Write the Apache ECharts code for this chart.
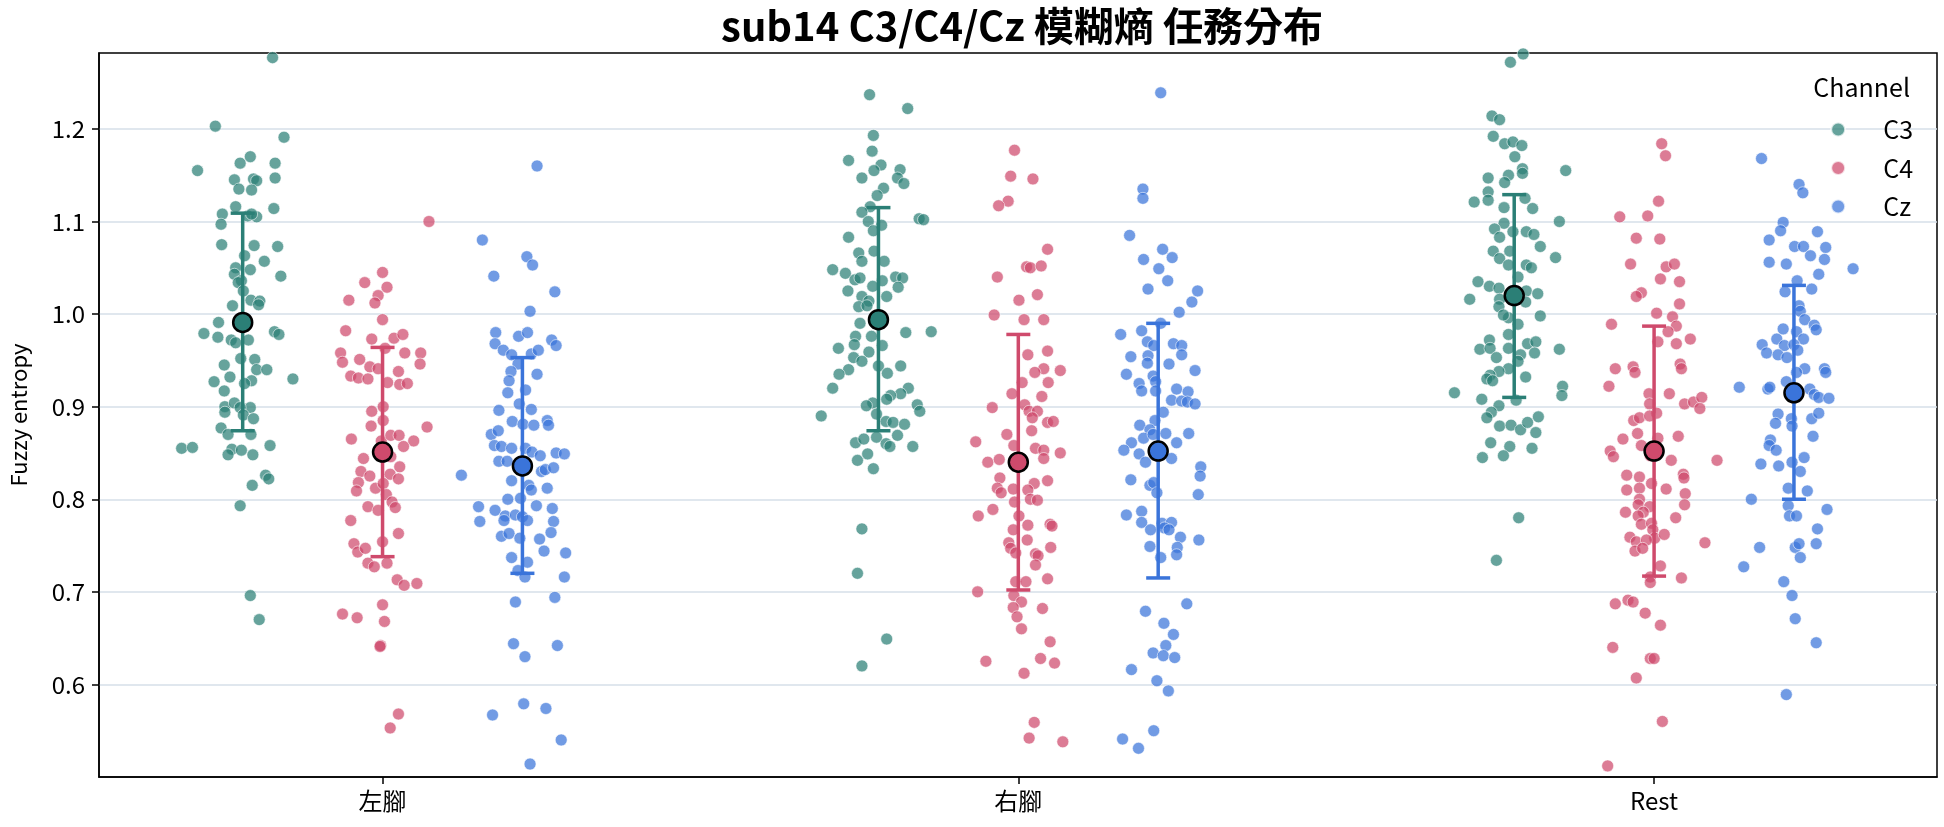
<!DOCTYPE html>
<html>
<head>
<meta charset="utf-8">
<title>sub14 fuzzy entropy</title>
<script src="https://cdn.jsdelivr.net/npm/echarts@6/dist/echarts.min.js"></script>
<style>
  html, body { margin: 0; padding: 0; background: #fff; }
  #main { width: 1944px; height: 827px; }
</style>
</head>
<body>
<div id="main"></div>
<script type="text/javascript">
var tasks = ['左腳', '右腳', 'Rest'];
var channels = ['C3', 'C4', 'Cz'];

// each point: [horizontal jitter (category units), fuzzy entropy]
var L_C3 = [[0.047,1.277],[-0.043,1.203],[0.065,1.191],[-0.071,1.155],[-0.004,1.163],[0.012,1.170],[0.051,1.163],[0.051,1.147],[-0.013,1.145],[0.017,1.146],[0.022,1.144],[-0.006,1.135],[0.014,1.134],[0.049,1.114],[-0.011,1.116],[-0.032,1.108],[-0.034,1.097],[0.008,1.106],[0.022,1.105],[0.014,1.108],[-0.033,1.075],[0.018,1.074],[0.055,1.073],[0.003,1.063],[0.034,1.057],[-0.011,1.050],[0.012,1.048],[-0.013,1.043],[0.060,1.041],[-0.002,1.036],[-0.007,1.034],[0.001,1.025],[0.013,1.015],[0.027,1.014],[0.025,1.010],[-0.016,1.009],[-0.038,0.991],[-0.061,0.979],[-0.039,0.975],[-0.018,0.972],[-0.011,0.969],[0.009,0.972],[0.050,0.981],[0.057,0.978],[-0.003,0.952],[0.019,0.951],[-0.029,0.945],[0.022,0.940],[0.038,0.940],[-0.020,0.932],[-0.045,0.927],[0.014,0.928],[0.003,0.925],[0.079,0.930],[-0.029,0.917],[-0.028,0.900],[-0.013,0.904],[0.012,0.899],[-0.004,0.899],[-0.028,0.894],[0.001,0.891],[0.017,0.887],[-0.034,0.877],[-0.023,0.870],[0.013,0.870],[-0.096,0.855],[-0.079,0.856],[0.043,0.858],[-0.017,0.854],[-0.002,0.853],[-0.023,0.848],[0.016,0.848],[0.036,0.826],[0.041,0.822],[0.015,0.815],[-0.004,0.793],[0.012,0.696],[0.026,0.670]];
var L_C4 = [[0.073,1.100],[0,1.045],[-0.028,1.034],[0.007,1.029],[-0.007,1.020],[-0.053,1.015],[-0.012,1.012],[0,0.994],[-0.058,0.982],[-0.017,0.973],[0.018,0.974],[0.032,0.978],[0.004,0.963],[-0.066,0.958],[-0.063,0.948],[-0.036,0.951],[0.035,0.958],[0.060,0.958],[0.059,0.946],[-0.020,0.943],[-0.007,0.941],[-0.050,0.933],[-0.038,0.931],[-0.023,0.930],[0.025,0.938],[0.008,0.926],[0.027,0.924],[0.039,0.925],[-0.017,0.895],[0.001,0.900],[-0.018,0.879],[0.001,0.885],[-0.049,0.865],[-0.002,0.863],[0.013,0.869],[0.026,0.869],[0.049,0.863],[0.070,0.878],[0.033,0.857],[-0.030,0.844],[0.013,0.846],[0.027,0.835],[-0.034,0.830],[-0.020,0.825],[0.012,0.827],[0.025,0.822],[-0.038,0.818],[-0.041,0.809],[-0.011,0.812],[0.001,0.817],[0.006,0.805],[-0.023,0.792],[-0.007,0.788],[0.015,0.797],[0.020,0.791],[-0.050,0.777],[0,0.754],[0.025,0.763],[-0.045,0.752],[-0.039,0.743],[-0.027,0.747],[-0.023,0.731],[-0.013,0.727],[0.007,0.731],[0.023,0.713],[0.034,0.707],[0.054,0.709],[0,0.686],[-0.063,0.676],[-0.040,0.672],[0.003,0.668],[-0.003,0.642],[-0.004,0.641],[0.025,0.568],[0.012,0.553]];
var L_Cz = [[0.023,1.160],[-0.063,1.080],[0.007,1.062],[0.016,1.053],[-0.045,1.041],[0.051,1.024],[0.012,1.003],[-0.042,0.980],[-0.043,0.968],[-0.006,0.976],[0.008,0.980],[0.046,0.972],[0.053,0.966],[-0.030,0.961],[-0.017,0.956],[0.014,0.957],[0.025,0.961],[-0.007,0.946],[-0.018,0.938],[0.023,0.935],[-0.021,0.928],[0.005,0.918],[-0.023,0.915],[-0.005,0.903],[-0.037,0.896],[0.014,0.897],[-0.016,0.884],[0.001,0.881],[0.018,0.880],[0.039,0.885],[0.041,0.880],[-0.049,0.870],[-0.038,0.874],[-0.044,0.858],[-0.033,0.857],[-0.017,0.855],[0.005,0.855],[0.015,0.851],[0.028,0.847],[0.053,0.850],[0.066,0.849],[-0.037,0.841],[-0.024,0.841],[0.030,0.830],[0.036,0.832],[0.049,0.834],[-0.096,0.826],[-0.017,0.820],[0.010,0.815],[0.014,0.810],[0.039,0.812],[-0.023,0.800],[-0.003,0.801],[-0.069,0.792],[-0.043,0.788],[0.022,0.793],[0.047,0.790],[-0.027,0.782],[-0.011,0.783],[0,0.781],[0.008,0.777],[-0.067,0.776],[-0.029,0.777],[0.049,0.776],[-0.033,0.760],[-0.021,0.763],[-0.004,0.758],[0.027,0.757],[0.045,0.764],[0.034,0.744],[0.068,0.742],[-0.017,0.737],[0.008,0.732],[-0.007,0.723],[0.004,0.716],[0.066,0.716],[-0.011,0.689],[0.051,0.694],[-0.014,0.644],[0.004,0.630],[0.055,0.642],[-0.047,0.567],[0.002,0.579],[0.037,0.574],[0.061,0.540],[0.012,0.514]];

var R_C3 = [[-0.014,1.237],[0.046,1.222],[-0.008,1.193],[-0.010,1.176],[-0.047,1.166],[0.004,1.161],[-0.007,1.155],[-0.026,1.147],[0.034,1.156],[0.030,1.147],[0.040,1.141],[0.008,1.136],[-0.002,1.128],[-0.013,1.116],[-0.026,1.110],[-0.016,1.100],[0.005,1.096],[-0.008,1.090],[0.064,1.103],[0.071,1.102],[-0.047,1.083],[-0.007,1.068],[-0.031,1.066],[-0.026,1.057],[0.009,1.057],[-0.072,1.048],[-0.052,1.044],[-0.037,1.037],[-0.029,1.039],[0.006,1.036],[0.027,1.040],[0.038,1.039],[-0.009,1.030],[-0.048,1.025],[0.031,1.029],[-0.026,1.019],[0.013,1.019],[-0.015,1.014],[-0.031,1.008],[-0.018,1.009],[-0.029,0.990],[0.043,0.980],[0.083,0.981],[-0.036,0.976],[-0.011,0.976],[0.006,0.966],[-0.038,0.967],[-0.063,0.963],[-0.015,0.959],[-0.039,0.953],[-0.026,0.949],[0,0.944],[0.035,0.944],[-0.047,0.940],[0.014,0.936],[-0.062,0.935],[-0.072,0.920],[0.047,0.920],[0.035,0.914],[0.019,0.912],[0.013,0.908],[-0.009,0.904],[-0.019,0.901],[0.061,0.902],[0.065,0.895],[-0.090,0.890],[-0.003,0.892],[0.012,0.884],[0.023,0.883],[0.041,0.881],[0.030,0.869],[-0.036,0.861],[-0.023,0.865],[-0.003,0.867],[0.012,0.860],[0.018,0.857],[0.054,0.857],[-0.033,0.842],[-0.017,0.849],[-0.008,0.833],[-0.026,0.768],[-0.033,0.720],[0.013,0.649],[-0.026,0.620]];
var R_C4 = [[-0.006,1.177],[-0.012,1.149],[0.023,1.146],[-0.016,1.122],[-0.031,1.117],[0.046,1.070],[0.013,1.051],[0.019,1.050],[0.036,1.052],[-0.033,1.040],[0.001,1.015],[0.030,1.021],[-0.038,0.999],[0.009,0.994],[0.040,0.994],[0.046,0.960],[0.015,0.956],[0.040,0.941],[0.026,0.937],[0.066,0.939],[0.006,0.926],[0.047,0.926],[-0.010,0.914],[0.037,0.911],[-0.041,0.899],[0.010,0.902],[0.017,0.895],[0.030,0.895],[0.022,0.888],[0.046,0.883],[0.055,0.884],[0.021,0.874],[-0.067,0.862],[-0.018,0.870],[-0.007,0.858],[0.027,0.855],[0.040,0.853],[0.066,0.850],[-0.048,0.840],[-0.030,0.843],[0.040,0.844],[-0.029,0.823],[0.025,0.817],[0.046,0.820],[-0.033,0.812],[-0.027,0.807],[-0.008,0.811],[0.015,0.810],[-0.006,0.797],[0.019,0.800],[0.030,0.799],[-0.063,0.782],[-0.040,0.789],[0.001,0.782],[0.015,0.772],[0.050,0.773],[0.053,0.771],[-0.008,0.767],[0.014,0.756],[-0.015,0.753],[-0.012,0.747],[-0.004,0.742],[0.051,0.748],[0.027,0.741],[0.031,0.739],[0.027,0.729],[0.046,0.714],[-0.004,0.711],[0.012,0.711],[-0.064,0.700],[-0.007,0.696],[0.005,0.689],[-0.008,0.683],[0.038,0.682],[-0.002,0.673],[0.005,0.660],[0.050,0.646],[-0.051,0.625],[0.035,0.628],[0.057,0.623],[0.009,0.612],[0.025,0.559],[0.017,0.542],[0.070,0.538]];
var R_Cz = [[0.004,1.239],[-0.024,1.135],[-0.024,1.125],[-0.045,1.085],[0.007,1.070],[0.022,1.061],[-0.023,1.059],[0.001,1.049],[0.015,1.036],[-0.016,1.027],[0.062,1.025],[0.053,1.013],[0.033,1.002],[0.004,0.990],[-0.059,0.978],[-0.026,0.982],[-0.017,0.970],[-0.007,0.966],[0.024,0.968],[0.037,0.966],[0.037,0.956],[-0.043,0.954],[-0.016,0.955],[-0.017,0.947],[0.017,0.946],[0.058,0.939],[-0.050,0.935],[-0.008,0.933],[-0.004,0.927],[-0.030,0.925],[-0.026,0.917],[-0.004,0.917],[0.029,0.919],[0.047,0.916],[0.021,0.907],[0.037,0.906],[0.046,0.905],[0.058,0.903],[0.008,0.894],[-0.005,0.885],[-0.029,0.880],[-0.013,0.875],[-0.023,0.866],[-0.008,0.870],[0.012,0.871],[0.048,0.871],[-0.042,0.861],[-0.054,0.853],[0.029,0.861],[-0.030,0.849],[0.021,0.844],[-0.020,0.840],[0.067,0.835],[0.066,0.825],[-0.043,0.821],[-0.013,0.815],[-0.007,0.818],[-0.002,0.807],[0.063,0.805],[-0.050,0.783],[-0.026,0.787],[-0.026,0.775],[0.006,0.774],[0.021,0.775],[-0.012,0.767],[0.010,0.769],[0.017,0.767],[0.035,0.759],[0.064,0.756],[0.030,0.748],[-0.013,0.749],[0.029,0.740],[0.004,0.737],[-0.020,0.679],[0.045,0.687],[0.009,0.666],[0.024,0.654],[0.012,0.642],[-0.008,0.634],[0.008,0.631],[0.026,0.629],[-0.042,0.616],[-0.002,0.604],[0.016,0.593],[-0.007,0.550],[-0.056,0.541],[-0.031,0.531]];

var S_C3 = [[-0.006,1.272],[0.014,1.281],[-0.035,1.214],[-0.023,1.210],[-0.033,1.192],[-0.015,1.184],[-0.002,1.186],[0.012,1.182],[0.001,1.170],[0.081,1.155],[0.013,1.157],[0.013,1.152],[-0.041,1.147],[-0.009,1.150],[-0.015,1.142],[-0.041,1.132],[-0.041,1.123],[-0.063,1.121],[0.017,1.125],[0.029,1.114],[-0.016,1.115],[0.071,1.100],[-0.016,1.098],[-0.031,1.092],[-0.002,1.089],[0.019,1.089],[0.031,1.086],[-0.023,1.083],[0.041,1.073],[-0.033,1.068],[-0.007,1.068],[0.065,1.061],[-0.023,1.060],[-0.009,1.053],[0.019,1.053],[0.027,1.050],[0.006,1.040],[-0.057,1.035],[-0.039,1.030],[-0.024,1.028],[0.019,1.025],[0.037,1.022],[-0.070,1.016],[-0.023,1.016],[0.018,1.013],[-0.024,1.008],[-0.009,0.996],[0.041,0.998],[-0.017,0.999],[0.006,0.989],[-0.009,0.978],[-0.039,0.972],[-0.054,0.962],[-0.038,0.963],[0.021,0.968],[0.034,0.970],[0.032,0.958],[-0.009,0.963],[0.071,0.962],[-0.028,0.953],[0.010,0.956],[0.006,0.949],[-0.009,0.941],[-0.024,0.938],[-0.038,0.934],[-0.043,0.930],[-0.034,0.928],[0.018,0.932],[-0.094,0.915],[0.076,0.922],[0.075,0.912],[-0.051,0.908],[0.003,0.907],[-0.024,0.901],[-0.036,0.894],[-0.043,0.888],[0.038,0.889],[-0.023,0.879],[-0.005,0.880],[0.010,0.875],[0.021,0.883],[0.034,0.872],[-0.037,0.861],[-0.007,0.857],[0.028,0.855],[-0.050,0.845],[-0.017,0.847],[0.007,0.780],[-0.028,0.734]];
var S_C4 = [[0.012,1.184],[0.018,1.171],[0.007,1.122],[-0.054,1.105],[-0.010,1.106],[-0.028,1.082],[0.009,1.081],[-0.037,1.054],[0.019,1.051],[0.032,1.054],[0.010,1.038],[0.040,1.035],[-0.020,1.023],[-0.028,1.019],[0.040,1.011],[0.004,1.001],[0.029,0.997],[-0.067,0.989],[0.035,0.987],[0.022,0.981],[0.006,0.970],[0.035,0.968],[0.057,0.973],[-0.061,0.941],[-0.033,0.943],[-0.030,0.937],[0.041,0.946],[0.043,0.941],[-0.071,0.922],[-0.008,0.914],[0.024,0.914],[0.048,0.903],[0.062,0.905],[0.075,0.910],[0.072,0.898],[-0.007,0.903],[0.004,0.893],[-0.032,0.885],[-0.023,0.888],[-0.007,0.890],[-0.026,0.871],[-0.049,0.865],[0.006,0.866],[0.038,0.868],[-0.020,0.858],[-0.069,0.852],[-0.064,0.846],[-0.006,0.847],[0.027,0.842],[0.099,0.842],[-0.043,0.826],[-0.023,0.824],[0.046,0.827],[0.047,0.823],[-0.043,0.810],[-0.023,0.812],[-0.004,0.817],[0.019,0.811],[0.049,0.806],[-0.023,0.800],[-0.025,0.794],[-0.007,0.792],[0.048,0.794],[-0.045,0.786],[-0.017,0.786],[-0.025,0.782],[0.034,0.780],[-0.020,0.773],[-0.004,0.774],[-0.002,0.767],[-0.038,0.759],[0.001,0.758],[0.016,0.762],[-0.028,0.754],[-0.012,0.756],[0.080,0.753],[-0.030,0.744],[-0.018,0.747],[0.010,0.728],[-0.006,0.716],[-0.006,0.710],[0.043,0.715],[-0.061,0.687],[-0.041,0.691],[-0.033,0.689],[-0.014,0.677],[0.010,0.664],[-0.065,0.640],[-0.006,0.628],[0,0.628],[-0.028,0.607],[0.013,0.560],[-0.073,0.512]];
var S_Cz = [[-0.051,1.168],[0.008,1.140],[0.014,1.131],[-0.017,1.099],[-0.021,1.090],[0.037,1.089],[-0.039,1.080],[0.001,1.073],[0.015,1.073],[0.050,1.072],[0.026,1.063],[0.048,1.059],[-0.039,1.056],[-0.012,1.054],[0.093,1.049],[0.039,1.043],[0.005,1.036],[-0.014,1.024],[0.028,1.027],[0.008,1.009],[0.010,1.003],[0.017,0.994],[-0.017,0.984],[0.032,0.988],[0.035,0.983],[0.004,0.981],[-0.027,0.973],[0.015,0.973],[-0.050,0.967],[-0.015,0.966],[0,0.967],[-0.043,0.958],[-0.025,0.956],[-0.011,0.953],[0.006,0.961],[0.017,0.941],[0.004,0.937],[0.048,0.941],[0.050,0.937],[-0.086,0.921],[-0.041,0.919],[-0.038,0.921],[-0.012,0.927],[0.025,0.919],[0.032,0.913],[0.039,0.910],[0.055,0.909],[-0.025,0.892],[-0.029,0.882],[-0.004,0.887],[0.028,0.887],[0.039,0.893],[-0.003,0.879],[0.030,0.868],[-0.037,0.864],[-0.039,0.858],[-0.028,0.853],[-0.052,0.838],[-0.024,0.836],[-0.003,0.840],[0.016,0.845],[0.010,0.830],[-0.009,0.812],[0.021,0.809],[-0.067,0.800],[-0.009,0.793],[-0.007,0.782],[0.004,0.782],[0.052,0.789],[0.037,0.768],[-0.054,0.748],[0.002,0.748],[0.008,0.752],[0.035,0.752],[0.010,0.737],[-0.079,0.727],[-0.016,0.711],[-0.003,0.696],[0.002,0.671],[0.035,0.645],[-0.012,0.589]];

// mean and mean ± sd per task (左腳, 右腳, Rest)
var meanC3 = [0.991, 0.994, 1.020];
var lowC3 = [0.874, 0.874, 0.910];
var highC3 = [1.109, 1.115, 1.129];
var meanC4 = [0.851, 0.840, 0.852];
var lowC4 = [0.738, 0.702, 0.717];
var highC4 = [0.964, 0.978, 0.987];
var meanCz = [0.836, 0.852, 0.915];
var lowCz = [0.720, 0.715, 0.800];
var highCz = [0.953, 0.990, 1.031];

var colors = ['#2b7f76', '#cf4a6c', '#3a74da'];
var dodge = [-0.22, 0, 0.22];
var points = [[L_C3, R_C3, S_C3], [L_C4, R_C4, S_C4], [L_Cz, R_Cz, S_Cz]];
var means = [meanC3, meanC4, meanCz];
var lows = [lowC3, lowC4, lowCz];
var highs = [highC3, highC4, highCz];
var font = '"Noto Sans CJK TC", "Noto Sans", sans-serif';

var series = [];
channels.forEach(function (ch, c) {
    var data = [];
    points[c].forEach(function (pts, t) {
        pts.forEach(function (p) {
            data.push([t + dodge[c] + p[0], p[1]]);
        });
    });
    series.push({
        name: ch,
        type: 'scatter',
        data: data,
        symbolSize: 12,
        z: 2,
        itemStyle: { color: colors[c], opacity: 0.72, borderColor: '#fff', borderWidth: 0.8 }
    });
});
channels.forEach(function (ch, c) {
    series.push({
        name: ch + ' sd',
        type: 'custom',
        z: 3,
        silent: true,
        data: tasks.map(function (t, i) { return [i + dodge[c], lows[c][i], highs[c][i]]; }),
        renderItem: function (params, api) {
            var x = api.value(0);
            var top = api.coord([x, api.value(2)]);
            var bot = api.coord([x, api.value(1)]);
            var cap = 12;
            var st = { stroke: colors[c], lineWidth: 3.5 };
            return {
                type: 'group',
                children: [
                    { type: 'line', shape: { x1: top[0], y1: top[1], x2: bot[0], y2: bot[1] }, style: st },
                    { type: 'line', shape: { x1: top[0] - cap, y1: top[1], x2: top[0] + cap, y2: top[1] }, style: st },
                    { type: 'line', shape: { x1: bot[0] - cap, y1: bot[1], x2: bot[0] + cap, y2: bot[1] }, style: st }
                ]
            };
        }
    });
    series.push({
        name: ch + ' mean',
        type: 'scatter',
        z: 4,
        symbolSize: 19,
        data: tasks.map(function (t, i) { return [i + dodge[c], means[c][i]]; }),
        itemStyle: { color: colors[c], opacity: 1, borderColor: '#000', borderWidth: 2.5 }
    });
});

var myChart = echarts.init(document.getElementById('main'));
var option = {
    backgroundColor: '#fff',
    animation: false,
    textStyle: { fontFamily: font },
    title: [{
        text: 'sub14 C3/C4/Cz 模糊熵 任務分布',
        left: 1017,
        textAlign: 'center',
        top: 1,
        textStyle: { fontFamily: font, fontSize: 40, fontWeight: 'bold', color: '#000' }
    }, {
        text: 'Channel',
        right: 29,
        top: 70,
        textStyle: { fontFamily: font, fontSize: 25, fontWeight: 'normal', color: '#000' }
    }],
    legend: {
        data: channels,
        orient: 'vertical',
        align: 'left',
        right: 26,
        top: 112,
        icon: 'circle',
        itemWidth: 14,
        itemHeight: 14,
        itemGap: 13.5,
        textStyle: { fontFamily: font, fontSize: 25, color: '#000', padding: [0, 0, 0, 33] }
    },
    grid: {
        left: 97, right: 7, top: 53, bottom: 50,
        show: true, borderColor: '#000', borderWidth: 1.5, backgroundColor: 'transparent'
    },
    xAxis: {
        type: 'value',
        min: -0.446,
        max: 2.445,
        axisLine: { show: true, onZero: false, lineStyle: { color: '#000', width: 1.5 } },
        axisTick: { show: true, customValues: [0, 1, 2], length: 7, lineStyle: { color: '#000', width: 1.5 } },
        axisLabel: {
            customValues: [0, 1, 2],
            margin: 12,
            fontSize: 24,
            color: '#000',
            fontFamily: font,
            formatter: function (v) { return tasks[Math.round(v)]; }
        },
        splitLine: { show: false }
    },
    yAxis: {
        type: 'value',
        min: 0.5,
        max: 1.282,
        interval: 0.1,
        name: 'Fuzzy entropy',
        nameLocation: 'middle',
        nameGap: 69,
        nameTextStyle: { fontSize: 22, color: '#000', fontFamily: font },
        axisLine: { show: true, onZero: false, lineStyle: { color: '#000', width: 1.5 } },
        axisTick: { show: true, customValues: [0.6, 0.7, 0.8, 0.9, 1.0, 1.1, 1.2], length: 7, lineStyle: { color: '#000', width: 1.5 } },
        axisLabel: {
            customValues: [0.6, 0.7, 0.8, 0.9, 1.0, 1.1, 1.2],
            margin: 14,
            fontSize: 24,
            color: '#000',
            fontFamily: font,
            formatter: function (v) { return v.toFixed(1); }
        },
        splitLine: { show: true, lineStyle: { color: '#d6dfe9', width: 1.5 } }
    },
    series: series
};
myChart.setOption(option);
</script>
</body>
</html>
